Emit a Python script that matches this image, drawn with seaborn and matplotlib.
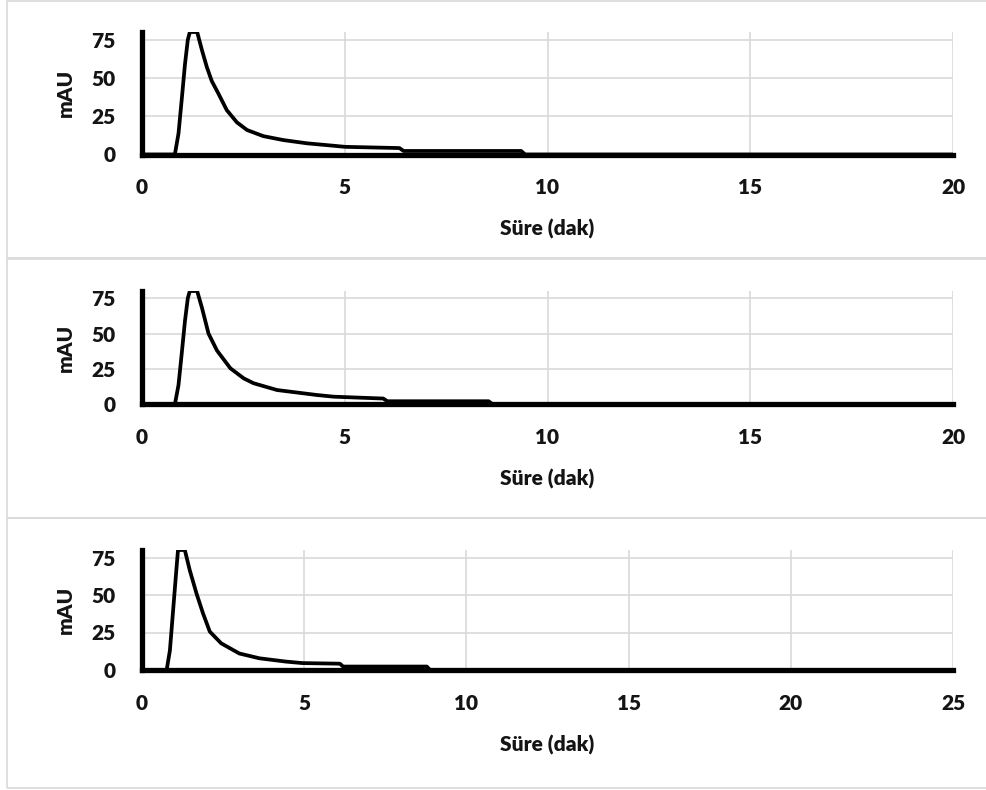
import matplotlib
matplotlib.use("Agg")
import matplotlib.pyplot as plt
from matplotlib.patches import Rectangle
import seaborn as sns
import pandas as pd

# Chromatogram traces (time in minutes, detector response in mAU)
time_1 = [0, 0.81, 0.90, 0.98, 1.06, 1.13, 1.18, 1.36, 1.48, 1.60, 1.72, 1.88, 2.09,
          2.34, 2.59, 2.99, 3.49, 4.07, 4.73, 5.01, 6.35, 6.45, 9.35, 9.45, 20]
mau_1 = [0, 0, 13.7, 36, 59, 75, 80, 80, 68, 57, 48, 40, 29,
         21, 16, 12, 9.4, 7.3, 5.7, 5.0, 4.2, 2.3, 2.3, 0, 0]

time_2 = [0, 0.81, 0.90, 0.98, 1.06, 1.13, 1.18, 1.36, 1.48, 1.64, 1.85, 2.18,
          2.51, 2.75, 3.33, 4.31, 4.73, 5.95, 6.05, 8.55, 8.65, 20]
mau_2 = [0, 0, 13.7, 36, 59, 75, 80, 80, 68, 50, 38, 25.5,
         18.4, 15, 10.2, 6.7, 5.5, 4.2, 2.3, 2.3, 0, 0]

time_3 = [0, 0.76, 0.86, 0.96, 1.06, 1.11, 1.32, 1.47, 1.68, 1.88, 2.09, 2.44,
          3.0, 3.62, 4.44, 4.95, 6.1, 6.2, 8.78, 8.88, 25]
mau_3 = [0, 0, 13, 40, 67, 80, 80, 66.7, 51, 37.8, 25.6, 17.8,
         11, 7.8, 5.6, 4.6, 4.2, 2.3, 2.3, 0, 0]

y_ticks = [0, 25, 50, 75]
x_ticks_short = [0, 5, 10, 15, 20]
x_ticks_long = [0, 5, 10, 15, 20, 25]
x_label = "Süre (dak)"
y_label = "mAU"

sns.set_theme(style="whitegrid")
plt.rcParams["font.family"] = ["Lato", "DejaVu Sans"]
plt.rcParams["font.weight"] = "bold"

W, H = 987, 790
fig = plt.figure(figsize=(W / 100, H / 100), dpi=100)
fig.patch.set_facecolor("white")

text_color = "#141414"
grid_color = "#d9d9d9"

# panel outlines (pixel top, bottom)
boxes = [(1, 258), (259, 518), (518, 788)]
for top, bot in boxes:
    fig.add_artist(Rectangle((7 / W, 1 - bot / H), 1.2, (bot - top) / H,
                             transform=fig.transFigure, fill=False,
                             edgecolor=grid_color, lw=1.2))

# axes placement in pixels: (top, bottom)
panels = [
    (32, 154.5, time_1, mau_1, x_ticks_short),
    (291, 404.5, time_2, mau_2, x_ticks_short),
    (550, 670, time_3, mau_3, x_ticks_long),
]
left_px, right_px = 142, 953

for top, bot, t, m, xt in panels:
    ax = fig.add_axes([left_px / W, 1 - bot / H, (right_px - left_px) / W, (bot - top) / H])
    df = pd.DataFrame({"t": t, "mau": m})
    sns.lineplot(data=df, x="t", y="mau", ax=ax, color="black", lw=2.7,
                 estimator=None, sort=False, solid_joinstyle="round",
                 solid_capstyle="round")
    ax.set_xlim(xt[0], xt[-1])
    ax.set_ylim(0, 80)
    ax.set_xticks(xt)
    ax.set_yticks(y_ticks)
    ax.set_facecolor("white")
    ax.grid(True, color=grid_color, lw=1.2)
    ax.set_axisbelow(True)
    for side in ("top", "right"):
        ax.spines[side].set_visible(False)
    for side in ("left", "bottom"):
        ax.spines[side].set_visible(True)
        ax.spines[side].set_color("black")
        ax.spines[side].set_linewidth(3.8)
        ax.spines[side].set_zorder(5)
    ax.tick_params(axis="both", length=0, labelsize=15, labelcolor=text_color)
    ax.tick_params(axis="x", pad=17)
    ax.tick_params(axis="y", pad=19)
    for lbl in ax.get_xticklabels() + ax.get_yticklabels():
        lbl.set_fontweight("heavy")
    ax.set_xlabel(x_label, fontsize=15, fontweight="heavy", color=text_color, labelpad=16)
    ax.set_ylabel(y_label, fontsize=15, fontweight="heavy", color=text_color, labelpad=12)

fig.savefig("out.png", dpi=100, facecolor="white")
